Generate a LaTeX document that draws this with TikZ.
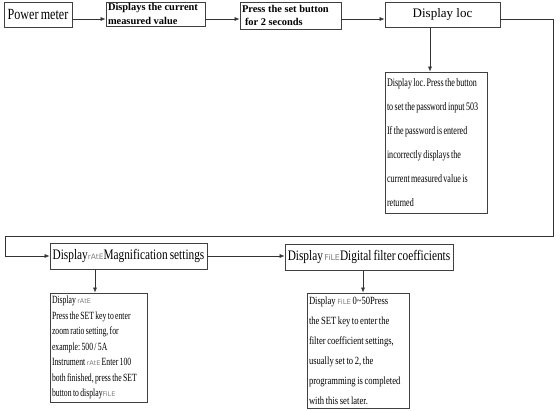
\documentclass[tikz,border=0pt]{standalone}
\usepackage{fontspec}
\setmainfont{Liberation Serif}
\newfontfamily\cond[FakeStretch=0.78,WordSpace=0.75]{Liberation Serif}
\newfontfamily\condb[FakeStretch=0.7,WordSpace=0.7]{Liberation Serif}
\newfontfamily\segf{DejaVu Sans}
\usetikzlibrary{arrows.meta}
\frenchspacing
\newcommand\segtxt[2]{{\segf\color{black!50}\fontsize{#1}{#1}\selectfont #2}}
\tikzset{
  box/.style={draw=black!75, line width=0.8pt, inner xsep=2pt, inner ysep=1pt},
  txtbox/.style={box, align=flush left},
  arr/.style={draw=black!80, line width=0.6pt, -{Latex[length=5pt,width=4pt]}},
}
\begin{document}
\begin{tikzpicture}[x=1pt,y=-1pt]
\useasboundingbox (0,0) rectangle (560,410);
% top row
\node[box, minimum width=68pt, minimum height=25pt, font={\cond\fontsize{15.5}{16}\selectfont}] (pm) at (38,14.5) {Power meter};
\node[txtbox, text width=95pt, minimum height=24pt, font={\bfseries\fontsize{10.4}{13.5}\selectfont}] (dcv) at (155.5,14) {Displays the current\\measured value};
\node[txtbox, text width=97pt, minimum height=27pt, font={\bfseries\fontsize{10.4}{13.5}\selectfont}] (psb) at (290.5,15.5) {Press the set button\\\hspace*{3pt}for 2 seconds};
\node[box, minimum width=115pt, minimum height=25pt, font={\fontsize{13}{14}\selectfont}] (loc) at (442.5,14.5) {Display loc};
% loc detail
\node[txtbox, text width=98pt, minimum height=141pt, font={\condb\fontsize{11.5}{24}\selectfont}] (locd) at (436,142.5) {Display loc. Press the button\\to set the password input 503\\If the password is entered\\incorrectly displays the\\current measured value is\\returned};
% second row
\node[box, minimum width=157pt, minimum height=26pt, inner xsep=1pt, font={\cond\fontsize{14.5}{15}\selectfont}] (mag) at (128.5,256) {Display\segtxt{7.5}{rAtE}Magnification settings};
\node[box, minimum width=168pt, minimum height=26pt, inner xsep=1pt, font={\cond\fontsize{14.5}{15}\selectfont}] (file) at (369,257) {Display\segtxt{8}{\,FiLE}Digital filter coefficients};
% bottom details
\node[txtbox, text width=93pt, minimum height=109pt, font={\condb\fontsize{11}{15.5}\selectfont}] (magd) at (98.5,347.5) {Display \segtxt{6.5}{rAtE}\\Press the SET key to enter\\zoom ratio setting, for\\example: 500 / 5A\\Instrument \segtxt{6.5}{rAtE} Enter 100\\both finished, press the SET\\button to display\segtxt{6.5}{FiLE}};
\node[txtbox, text width=98pt, minimum height=115pt, font={\cond\fontsize{11}{20}\selectfont}] (filed) at (358,350.5) {Display \segtxt{7}{FiLE} 0\textasciitilde50Press\\the SET key to enter the\\filter coefficient settings,\\usually set to 2, the\\programming is completed\\with this set later.};
% helper coordinates
\coordinate (xa) at (430,0);
\coordinate (xb) at (95,0);
\coordinate (xc) at (363,0);
\coordinate (ya) at (0,19);
\coordinate (c1) at (553,236);
\coordinate (c2) at (5,236);
% connectors
\draw[arr] (pm.east |- ya) -- (dcv.west |- ya);
\draw[arr] (dcv.east |- ya) -- (psb.west |- ya);
\draw[arr] (psb.east |- ya) -- (loc.west |- ya);
\draw[arr] (loc.south -| xa) -- (locd.north -| xa);
\draw[arr] (loc.east |- ya) -| (c1) -- (c2) |- (mag.west);
\draw[arr] (mag.east) -- (mag.east -| file.west);
\draw[arr] (mag.south -| xb) -- (magd.north -| xb);
\draw[arr] (file.south -| xc) -- (filed.north -| xc);
\end{tikzpicture}
\end{document}
